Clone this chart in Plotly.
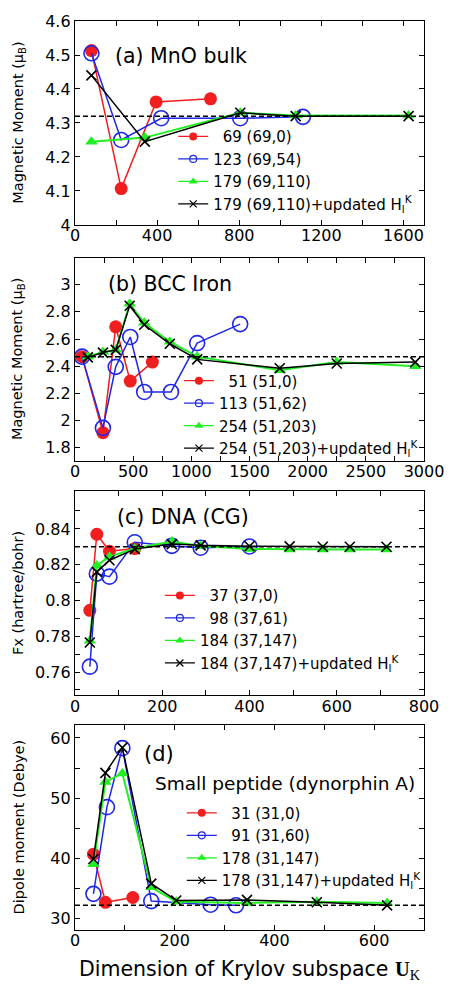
import plotly.graph_objects as go

# ---------------- data ----------------
# (a) MnO bulk
a_red_x = [80, 225, 395, 660]
a_red_y = [4.513, 4.107, 4.362, 4.371]
a_blue_x = [80, 225, 420, 805, 1110]
a_blue_y = [4.505, 4.250, 4.314, 4.314, 4.318]
a_green_x = [80, 340, 805, 1075, 1625]
a_green_y = [4.245, 4.257, 4.330, 4.322, 4.322]
a_black_x = [80, 340, 805, 1075, 1625]
a_black_y = [4.440, 4.245, 4.330, 4.320, 4.320]
a_ref = 4.32

# (b) BCC Iron
b_red_x = [60, 240, 350, 475, 665]
b_red_y = [2.47, 1.91, 2.69, 2.29, 2.43]
b_blue_x = [60, 240, 350, 475, 595, 825, 1050, 1420]
b_blue_y = [2.47, 1.945, 2.395, 2.615, 2.21, 2.21, 2.57, 2.71]
b_green_x = [110, 240, 350, 470, 595, 815, 1050, 1760, 2250, 2925]
b_green_y = [2.47, 2.505, 2.52, 2.86, 2.72, 2.58, 2.47, 2.37, 2.43, 2.40]
b_black_x = [110, 240, 350, 470, 595, 815, 1050, 1760, 2250, 2925]
b_black_y = [2.465, 2.50, 2.52, 2.845, 2.705, 2.565, 2.45, 2.385, 2.42, 2.43]
b_ref = 2.47

# (c) DNA (CG)
c_red_x = [34, 50, 79, 137]
c_red_y = [0.7945, 0.837, 0.8275, 0.829]
c_blue_x = [34, 50, 79, 137, 222, 288, 400]
c_blue_y = [0.763, 0.815, 0.8133, 0.8325, 0.8305, 0.8295, 0.8302]
c_green_x = [34, 50, 79, 137, 222, 288, 400, 492, 568, 630, 714]
c_green_y = [0.7775, 0.8195, 0.8245, 0.829, 0.833, 0.8305, 0.8287, 0.8285, 0.8285, 0.8285, 0.8285]
c_black_x = [34, 50, 79, 137, 222, 288, 400, 492, 568, 630, 714]
c_black_y = [0.7765, 0.816, 0.8225, 0.8287, 0.8315, 0.8308, 0.8303, 0.8302, 0.830, 0.830, 0.830]
c_ref = 0.830

# (d) Small peptide
d_red_x = [37, 61, 116]
d_red_y = [40.7, 32.7, 33.5]
d_blue_x = [37, 64, 95, 153, 272, 323]
d_blue_y = [34.1, 48.5, 58.3, 32.9, 32.3, 32.2]
d_green_x = [37, 61, 95, 153, 203, 345, 485, 626]
d_green_y = [39.0, 52.7, 54.1, 35.2, 32.8, 32.6, 32.8, 32.6]
d_black_x = [37, 61, 95, 153, 203, 345, 485, 626]
d_black_y = [39.9, 54.2, 58.4, 35.8, 33.0, 33.1, 32.7, 32.2]
d_ref = 32.2

a_names = ["\u200769 (69,0)", "123 (69,54)", "179 (69,110)", "179 (69,110)+updated H<sub>l</sub><sup>K</sup>"]
b_names = ["\u200751 (51,0)", "113 (51,62)", "254 (51,203)", "254 (51,203)+updated H<sub>l</sub><sup>K</sup>"]
c_names = ["\u200737 (37,0)", "\u200798 (37,61)", "184 (37,147)", "184 (37,147)+updated H<sub>l</sub><sup>K</sup>"]
d_names = ["\u200731 (31,0)", "\u200791 (31,60)", "178 (31,147)", "178 (31,147)+updated H<sub>l</sub><sup>K</sup>"]

# ticks (labelled major ticks, plus unlabelled minor ticks)
a_xticks = [0, 400, 800, 1200, 1600]
a_xminor = [200, 600, 1000, 1400]
a_yticks = [4.0, 4.1, 4.2, 4.3, 4.4, 4.5, 4.6]
a_ylabels = ["4", "4.1", "4.2", "4.3", "4.4", "4.5", "4.6"]
a_yminor = []
b_xticks = [0, 500, 1000, 1500, 2000, 2500, 3000]
b_xminor = [250, 750, 1250, 1750, 2250, 2750]
b_yticks = [1.8, 2.0, 2.2, 2.4, 2.6, 2.8, 3.0]
b_ylabels = ["1.8", "2", "2.2", "2.4", "2.6", "2.8", "3"]
b_yminor = []
c_xticks = [0, 200, 400, 600, 800]
c_xminor = [100, 300, 500, 700]
c_yticks = [0.76, 0.78, 0.80, 0.82, 0.84]
c_ylabels = ["0.76", "0.78", "0.8", "0.82", "0.84"]
c_yminor = [0.75, 0.77, 0.79, 0.81, 0.83, 0.85]
d_xticks = [0, 200, 400, 600]
d_xminor = [100, 300, 500, 700]
d_yticks = [30, 40, 50, 60]
d_ylabels = ["30", "40", "50", "60"]
d_yminor = [35, 45, 55]

# ---------------- style ----------------
FONT = "DejaVu Sans"
RED = "#f01e1e"
BLUE = "#1e28e6"
GREEN = "#22ee22"
BLACK = "#000000"

styles = [
    dict(color=RED, lw=1.5, sym="circle", size=13, lsize=8, mlw=0),
    dict(color=BLUE, lw=1.5, sym="circle-open", size=15, lsize=7, mlw=1.6),
    dict(color=GREEN, lw=2.0, sym="triangle-up", size=11, lsize=8, mlw=0),
    dict(color=BLACK, lw=1.5, sym="x-thin", size=10, lsize=7, mlw=1.6),
]

panels = [
    dict(series=[(a_red_x, a_red_y), (a_blue_x, a_blue_y), (a_green_x, a_green_y), (a_black_x, a_black_y)],
         names=a_names, ref=a_ref, xr=[0, 1700], yr=[4.0, 4.6],
         xt=a_xticks, xm=a_xminor, yt=(a_yticks, a_ylabels), ym=a_yminor, dom=[0.7756, 1.0],
         leg=(0.2814, 0.8909)),
    dict(series=[(b_red_x, b_red_y), (b_blue_x, b_blue_y), (b_green_x, b_green_y), (b_black_x, b_black_y)],
         names=b_names, ref=b_ref, xr=[0, 3000], yr=[1.7, 3.2],
         xt=b_xticks, xm=b_xminor, yt=(b_yticks, b_ylabels), ym=b_yminor, dom=[0.5158, 0.7397],
         leg=(0.2978, 0.6222)),
    dict(series=[(c_red_x, c_red_y), (c_blue_x, c_blue_y), (c_green_x, c_green_y), (c_black_x, c_black_y)],
         names=c_names, ref=c_ref, xr=[0, 800], yr=[0.747, 0.861],
         xt=c_xticks, xm=c_xminor, yt=(c_yticks, c_ylabels), ym=c_yminor, dom=[0.2582, 0.4826],
         leg=(0.2432, 0.3859)),
    dict(series=[(d_red_x, d_red_y), (d_blue_x, d_blue_y), (d_green_x, d_green_y), (d_black_x, d_black_y)],
         names=d_names, ref=d_ref, xr=[0, 700], yr=[28.1, 62.1],
         xt=d_xticks, xm=d_xminor, yt=(d_yticks, d_ylabels), ym=d_yminor, dom=[0.0, 0.2252],
         leg=(0.306, 0.1468)),
]

fig = go.Figure()
layout = dict(
    width=456, height=987,
    margin=dict(l=75, r=15, t=12, b=57),
    paper_bgcolor="white", plot_bgcolor="white",
    font=dict(family=FONT, size=16, color="black"),
    shapes=[], annotations=[],
)

for i, p in enumerate(panels):
    k = "" if i == 0 else str(i + 1)
    xa, ya = "x" + k, "y" + k
    legname = "legend" + k
    for j, (sx, sy) in enumerate(p["series"]):
        st = styles[j]
        fig.add_trace(go.Scatter(
            x=sx, y=sy, mode="lines+markers", xaxis=xa, yaxis=ya, showlegend=False,
            line=dict(color=st["color"], width=st["lw"]),
            marker=dict(symbol=st["sym"], size=st["size"], color=st["color"],
                        line=dict(color=st["color"], width=st["mlw"])),
        ))
    for j in range(4):
        st = styles[j]
        fig.add_trace(go.Scatter(
            x=[None], y=[None], mode="lines+markers", xaxis=xa, yaxis=ya,
            name=p["names"][j], legend=legname, showlegend=True,
            line=dict(color=st["color"], width=1.3),
            marker=dict(symbol=st["sym"], size=st["lsize"], color=st["color"],
                        line=dict(color=st["color"], width=1.2 if st["mlw"] else 0)),
        ))
    axcommon = dict(showline=True, linecolor="black", linewidth=1.3, mirror="allticks",
                    ticks="inside", ticklen=5, tickwidth=1.1, tickcolor="black",
                    showgrid=False, zeroline=False, ticklabeloverflow="allow",
                    tickfont=dict(family=FONT, size=16, color="black"))
    minor_common = dict(ticks="inside", ticklen=5, tickwidth=1.1, tickcolor="black", showgrid=False)
    layout["xaxis" + k] = dict(axcommon, domain=[0, 1], range=p["xr"], anchor=ya,
                               tickmode="array", tickvals=p["xt"], ticklabelstandoff=-4,
                               minor=dict(minor_common, tickmode="array", tickvals=p["xm"]))
    ydict = dict(axcommon, domain=p["dom"], range=p["yr"], anchor=xa,
                 tickmode="array", tickvals=p["yt"][0], ticktext=p["yt"][1])
    if p["ym"]:
        ydict["minor"] = dict(minor_common, tickmode="array", tickvals=p["ym"])
    layout["yaxis" + k] = ydict
    layout[legname] = dict(x=p["leg"][0], y=p["leg"][1], xanchor="left", yanchor="top",
                           bgcolor="rgba(0,0,0,0)", borderwidth=0,
                           font=dict(family=FONT, size=15, color="black"),
                           tracegroupgap=0)
    layout["shapes"].append(dict(type="line", xref=xa + " domain", yref=ya,
                                 x0=0, x1=1, y0=p["ref"], y1=p["ref"],
                                 line=dict(color="black", width=1.5, dash="5px,3px")))

ann = layout["annotations"]
def add_text(text, x, y, size, xanchor="left", angle=0):
    ann.append(dict(text=text, x=x, y=y, xref="paper", yref="paper", showarrow=False,
                    xanchor=xanchor, yanchor="middle", textangle=angle,
                    font=dict(family=FONT, size=size, color="black")))

add_text("(a) MnO bulk", 0.1093, 0.9619, 20.5)
add_text("(b) BCC Iron", 0.0902, 0.7102, 20.5)
add_text("(c) DNA (CG)", 0.1148, 0.4542, 20.5)
add_text("(d)", 0.1913, 0.1939, 21)
add_text("Small peptide (dynorphin A)", 0.224, 0.1612, 18.5)

ytitles = ["Magnetic Moment (\u03bc<sub>B</sub>)", "Magnetic Moment (\u03bc<sub>B</sub>)",
           "Fx (hartree/bohr)", "Dipole moment (Debye)"]
for p, t in zip(panels, ytitles):
    add_text(t, -0.1612, sum(p["dom"]) / 2, 14.5, xanchor="center", angle=-90)

ann.append(dict(text="Dimension of Krylov subspace <span style='font-family:Liberation Serif'><b>U</b><sub>K</sub></span>",
                x=0.5, y=-0.0436, xref="paper", yref="paper", showarrow=False,
                xanchor="center", yanchor="middle",
                font=dict(family=FONT, size=20.5, color="black")))

fig.update_layout(**layout)
fig.write_html("out.html")
